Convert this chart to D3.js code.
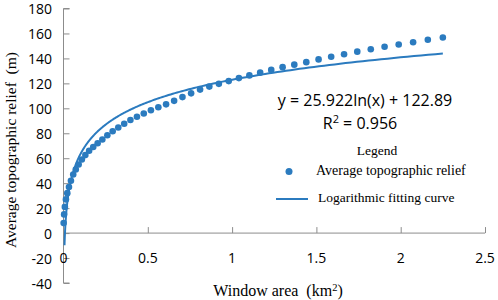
<!DOCTYPE html>
<html>
<head>
<meta charset="utf-8">
<script src="https://cdn.jsdelivr.net/npm/d3@7"></script>
<style>
  body { margin: 0; background: #fff; }
  svg { display: block; }
</style>
</head>
<body>
<div id="chart"></div>
<script>
// window areas (km2), square windows of side 30 m .. 1500 m
const windowArea = [
  0.0009, 0.0036, 0.0081, 0.0144, 0.0225, 0.0324, 0.0441, 0.0576, 0.0729, 0.09,
  0.1089, 0.1296, 0.1521, 0.1764, 0.2025, 0.2304, 0.2601, 0.2916, 0.3249, 0.36,
  0.3969, 0.4356, 0.4761, 0.5184, 0.5625, 0.6084, 0.6561, 0.7056, 0.7569, 0.81,
  0.8649, 0.9216, 0.9801, 1.0404, 1.1025, 1.1664, 1.2321, 1.2996, 1.3689, 1.44,
  1.5129, 1.5876, 1.6641, 1.7424, 1.8225, 1.9044, 1.9881, 2.0736, 2.1609, 2.25
];
// average topographic relief (m)
const avgRelief = [
  8, 15, 21, 27, 32, 37, 42, 47, 51, 55,
  59, 62.5, 66, 69, 72, 75, 78.4, 81.6, 84.6, 87.6,
  90.6, 93.2, 95.8, 98.4, 100.8, 103.2, 106, 109, 112, 115,
  117.4, 119.6, 121.8, 124.2, 126.4, 128.6, 130.8, 133, 135, 137,
  139.2, 141.3, 143.3, 145.4, 147.4, 149.4, 151.2, 153, 155, 156.8
];
// fitted curve y = a ln(x) + b, drawn over this x range
const fitCoef = [25.922, 122.89];
const fitRange = [0.006, 2.25];

const xTicks = [0, 0.5, 1, 1.5, 2, 2.5];
const yTicks = [-40, -20, 0, 20, 40, 60, 80, 100, 120, 140, 160, 180];

const width = 498, height = 300;
const blue = "#2b7bbf";
const axisGrey = "#8c8c8c";
const numFont = "'Open Sans', sans-serif";
const serif = "'Liberation Serif', 'Times New Roman', serif";

const svg = d3.select("#chart").append("svg")
  .attr("width", width)
  .attr("height", height);

const x = d3.scaleLinear().domain([0, 2.5]).range([63.5, 485]);
const y = d3.scaleLinear().domain([-40, 180]).range([283, 8.5]);

// y axis (ticks point inward)
const yAxis = svg.append("g")
  .attr("transform", `translate(${x(0)},0)`)
  .call(d3.axisRight(y).tickValues(yTicks).tickSize(6).tickFormat(""));
yAxis.select(".domain").attr("stroke", axisGrey).attr("d", `M6,${y(180)}H0V${y(-40)}H6`);
yAxis.selectAll(".tick line").attr("stroke", axisGrey);

svg.append("g").selectAll("text")
  .data(yTicks)
  .enter().append("text")
  .attr("x", 52)
  .attr("y", d => y(d) + 5.5)
  .attr("text-anchor", "end")
  .style("font-family", numFont)
  .style("font-size", "14px")
  .attr("fill", "#000")
  .text(d => d);

// x axis at y = 0, ticks pointing up
const xAxis = svg.append("g")
  .attr("transform", `translate(0,${y(0)})`)
  .call(d3.axisTop(x).tickValues(xTicks.slice(1)).tickSize(6).tickFormat(""));
xAxis.select(".domain").attr("stroke", axisGrey).attr("d", `M${x(0)},0H${x(2.5)}`);
xAxis.selectAll(".tick line").attr("stroke", axisGrey);

svg.append("g").selectAll("text")
  .data(xTicks)
  .enter().append("text")
  .attr("x", d => x(d))
  .attr("y", 263)
  .attr("text-anchor", "middle")
  .style("font-family", numFont)
  .style("font-size", "14px")
  .attr("fill", "#000")
  .text(d => d);

// fitted logarithmic curve
const fitX = d3.range(0, 301).map(i => fitRange[0] * Math.pow(fitRange[1] / fitRange[0], i / 300));
const line = d3.line()
  .x(d => x(d))
  .y(d => y(fitCoef[0] * Math.log(d) + fitCoef[1]));
svg.append("path")
  .datum(fitX)
  .attr("d", line)
  .attr("fill", "none")
  .attr("stroke", blue)
  .attr("stroke-width", 2);

// data points
svg.append("g").selectAll("circle")
  .data(windowArea)
  .enter().append("circle")
  .attr("cx", d => x(d))
  .attr("cy", (d, i) => y(avgRelief[i]))
  .attr("r", 3.3)
  .attr("fill", blue);

// equation
svg.append("text")
  .attr("x", 365).attr("y", 106)
  .attr("text-anchor", "middle")
  .style("font-family", numFont).style("font-size", "16px")
  .text("y = 25.922ln(x) + 122.89");
const r2 = svg.append("text")
  .attr("x", 360).attr("y", 128.5)
  .attr("text-anchor", "middle")
  .style("font-family", numFont).style("font-size", "16px");
r2.append("tspan").text("R");
r2.append("tspan").attr("dy", -6).style("font-size", "11px").text("2");
r2.append("tspan").attr("dy", 6).text(" = 0.956");

// legend
svg.append("text")
  .attr("x", 377).attr("y", 155)
  .attr("text-anchor", "middle")
  .style("font-family", serif).style("font-size", "13.5px")
  .text("Legend");
svg.append("circle")
  .attr("cx", 289).attr("cy", 171.5).attr("r", 3.5)
  .attr("fill", blue);
svg.append("text")
  .attr("x", 316).attr("y", 175)
  .style("font-family", serif).style("font-size", "14px")
  .text("Average topographic relief");
svg.append("line")
  .attr("x1", 276).attr("x2", 308)
  .attr("y1", 199).attr("y2", 199)
  .attr("stroke", blue).attr("stroke-width", 2);
svg.append("text")
  .attr("x", 318).attr("y", 202)
  .style("font-family", serif).style("font-size", "13.5px")
  .text("Logarithmic fitting curve");

// axis titles
const xt = svg.append("text")
  .attr("x", 278).attr("y", 296)
  .attr("text-anchor", "middle")
  .style("font-family", serif).style("font-size", "16px")
  .text("Window area\u00a0\u00a0(km");
xt.append("tspan").attr("dy", -5).style("font-size", "10.5px").text("2");
xt.append("tspan").attr("dy", 5).text(")");

svg.append("text")
  .attr("transform", `translate(16,150) rotate(-90)`)
  .attr("text-anchor", "middle")
  .style("font-family", serif).style("font-size", "15.5px")
  .text("Average topographic relief\u00a0\u00a0(m)");
</script>
</body>
</html>
